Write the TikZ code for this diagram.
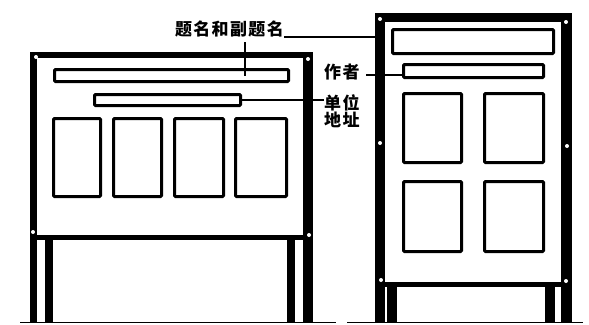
\documentclass[tikz,border=0pt]{standalone}
\usepackage{fontspec}
\newfontfamily\cjk{Noto Sans CJK SC}[LetterSpace=8]
\begin{document}
\begin{tikzpicture}[x=1pt,y=-1pt,
 bar/.style={draw, line width=3pt, inner sep=0pt, rounded corners=1pt, fill=white},
 dot/.style={circle, fill=white, inner sep=0pt, minimum size=4pt},
 lab/.style={font=\cjk\bfseries\fontsize{17}{17}\selectfont, inner sep=0pt, align=left},
 conn/.style={line width=2pt}]
\useasboundingbox[fill=white] (0,0) rectangle (589,324);
% left board
\fill (30,52) rectangle (313,240);
\fill[white] (37,58) rectangle (303,235);
\fill (30,240) rectangle (37,323);
\fill (45,240) rectangle (53,323);
\fill (287,240) rectangle (295,323);
\fill (303,240) rectangle (313,323);
% right board
\fill (375,13) rectangle (572,287);
\fill[white] (385,22) rectangle (561,282);
\fill (375,287) rectangle (385,323);
\fill (387,287) rectangle (397,323);
\fill (545,287) rectangle (555,323);
\fill (561,287) rectangle (572,323);
% ground
\draw[line width=1.5pt] (20,322.5) -- (336,322.5);
\draw[line width=1.5pt] (347,322.5) -- (583,322.5);
% dots
\foreach \p in {(36,57),(33,232),(308,59),(309,235),(380,19),(566,22),(380,143),(567,146),(381,280),(566,281)}
  \node[dot] at \p {};
% left board contents
\node[bar, minimum width=234pt, minimum height=12pt] (t1) at (171.5,75.5) {};
\node[bar, minimum width=146pt, minimum height=11pt] (s1) at (167.5,100) {};
\node[bar, minimum width=47pt, minimum height=78pt] (p1) at (77,157.5) {};
\node[bar, minimum width=48pt, minimum height=78pt] (p2) at (137.5,157.5) {};
\node[bar, minimum width=49pt, minimum height=78pt] (p3) at (199,157.5) {};
\node[bar, minimum width=51pt, minimum height=78pt] (p4) at (261,157.5) {};
% right board contents
\node[bar, minimum width=161pt, minimum height=24pt] (t2) at (473,41.5) {};
\node[bar, minimum width=140pt, minimum height=13pt] (a1) at (473.5,71) {};
\node[bar, minimum width=58pt, minimum height=69pt] (q1) at (432.5,128) {};
\node[bar, minimum width=59pt, minimum height=69pt] (q2) at (514,128) {};
\node[bar, minimum width=58pt, minimum height=70pt] (q3) at (432.5,216.5) {};
\node[bar, minimum width=59pt, minimum height=70pt] (q4) at (514,216.5) {};
% labels
\node[lab, anchor=base east] (l1) at (284,35.5) {题名和副题名};
\node[lab, anchor=base west] (l2) at (324,78) {作者};
\node[lab, anchor=north west] (l3) at (324,94) {单位\\地址};
% connectors
\coordinate (l1e) at (284,37);
\coordinate (rbL) at (375,37);
\draw[line width=2.5pt] (l1e) -- (rbL);
\coordinate (tk) at (245,42);
\draw[line width=2.5pt] (tk) -- (tk |- t1.center);
\coordinate (l2e) at (366,75);
\draw[conn] (l2e) -- (l2e -| a1.west);
\draw[conn] (s1.east) -- (s1.east -| l3.west);
\end{tikzpicture}
\end{document}
